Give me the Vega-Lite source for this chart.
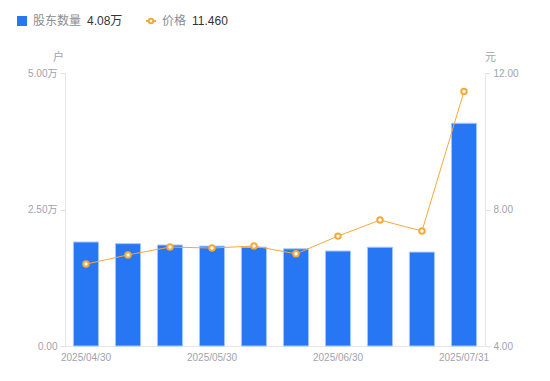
{
  "$schema": "https://vega.github.io/schema/vega-lite/v6.json",
  "width": 420,
  "height": 273,
  "autosize": {"type": "none"},
  "padding": {"left": 65, "top": 73, "right": 65, "bottom": 35},
  "background": "white",
  "config": {
    "view": {"stroke": null},
    "font": "Liberation Sans, Noto Sans CJK SC",
    "axis": {
      "labelFont": "Liberation Sans, Noto Sans CJK SC",
      "titleFont": "Noto Sans CJK SC",
      "labelColor": "#a0a3ad",
      "titleColor": "#a0a3ad",
      "labelFontSize": 10,
      "titleFontSize": 11,
      "titleFontWeight": "normal",
      "domainColor": "#e6e6e6",
      "tickColor": "#e0e0e0",
      "grid": false
    },
    "legend": {
      "labelFont": "Noto Sans CJK SC",
      "titleFont": "Liberation Sans, Noto Sans CJK SC"
    }
  },
  "data": {
    "values": [
      {"date": "2025/04/30", "holders": 19050, "price": 6.40},
      {"date": "2025/05/10", "holders": 18750, "price": 6.67},
      {"date": "2025/05/20", "holders": 18500, "price": 6.90},
      {"date": "2025/05/30", "holders": 18300, "price": 6.87},
      {"date": "2025/06/10", "holders": 18100, "price": 6.93},
      {"date": "2025/06/20", "holders": 17800, "price": 6.70},
      {"date": "2025/06/30", "holders": 17400, "price": 7.22},
      {"date": "2025/07/10", "holders": 18100, "price": 7.69},
      {"date": "2025/07/20", "holders": 17200, "price": 7.37},
      {"date": "2025/07/31", "holders": 40800, "price": 11.46}
    ]
  },
  "encoding": {
    "x": {
      "field": "date",
      "type": "ordinal",
      "sort": null,
      "scale": {"paddingInner": 0.4, "paddingOuter": 0.2},
      "axis": {
        "title": null,
        "labelAngle": 0,
        "ticks": false,
        "labelPadding": 6,
        "values": ["2025/04/30", "2025/05/30", "2025/06/30", "2025/07/31"]
      }
    }
  },
  "layer": [
    {
      "mark": {"type": "bar", "stroke": "#a9c9fb", "strokeWidth": 1},
      "encoding": {
        "y": {
          "field": "holders",
          "type": "quantitative",
          "scale": {"domain": [0, 50000]},
          "axis": {
            "values": [0, 25000, 50000],
            "labelExpr": "datum.value == 0 ? '0.00' : format(datum.value / 10000, '.2f') + '万'",
            "title": "户",
            "titleAngle": 0,
            "titleAlign": "center",
            "titleBaseline": "middle",
            "titleX": -7,
            "titleY": -16,
            "tickSize": 5,
            "labelPadding": 3
          }
        },
        "color": {
          "datum": "股东数量",
          "scale": {"range": ["#2777f5"]},
          "legend": {
            "orient": "none",
            "legendX": -49,
            "legendY": -58,
            "title": "4.08万",
            "titleOrient": "right",
            "titleColor": "#333333",
            "titleFontSize": 12,
            "titleFontWeight": "normal",
            "titlePadding": 6,
            "titleBaseline": "middle",
            "labelColor": "#8a8d96",
            "labelFontSize": 12,
            "symbolType": "square",
            "symbolSize": 100,
            "symbolStrokeWidth": 0,
            "labelOffset": 5
          }
        }
      }
    },
    {
      "mark": {
        "type": "line",
        "strokeWidth": 1,
        "point": {"filled": false, "fill": "white", "size": 30, "strokeWidth": 2}
      },
      "encoding": {
        "y": {
          "field": "price",
          "type": "quantitative",
          "scale": {"domain": [4, 12], "zero": false},
          "axis": {
            "orient": "right",
            "values": [4, 8, 12],
            "format": ".2f",
            "title": "元",
            "titleAngle": 0,
            "titleAlign": "center",
            "titleBaseline": "middle",
            "titleX": 5,
            "titleY": -16,
            "tickSize": 5,
            "labelPadding": 3
          }
        },
        "stroke": {
          "datum": "价格",
          "scale": {"range": ["#f5a93a"]},
          "legend": {
            "orient": "none",
            "legendX": 80,
            "legendY": -58,
            "title": "11.460",
            "titleOrient": "right",
            "titleColor": "#333333",
            "titleFontSize": 12,
            "titleFontWeight": "normal",
            "titlePadding": 6,
            "titleBaseline": "middle",
            "labelColor": "#8a8d96",
            "labelFontSize": 12,
            "symbolType": "M-1,0L-0.45,0M0.45,0L1,0M0.45,0A0.45,0.45 0 1 1 -0.45,0A0.45,0.45 0 1 1 0.45,0Z",
            "symbolSize": 100,
            "symbolFillColor": "white",
            "symbolStrokeWidth": 2,
            "labelOffset": 5
          }
        }
      }
    }
  ],
  "resolve": {"scale": {"y": "independent"}}
}
